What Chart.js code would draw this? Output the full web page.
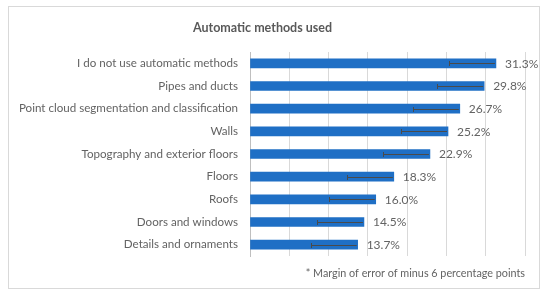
<!DOCTYPE html>
<html>
<head>
<meta charset="utf-8">
<script src="https://cdn.jsdelivr.net/npm/chart.js@4"></script>
<style>
  html, body { margin: 0; padding: 0; background: #fff; }
  #wrap { position: relative; width: 550px; height: 299px; }
  #frame { position: absolute; left: 8px; top: 6px; width: 532px; height: 283px; border: 1px solid #d9d9d9; box-sizing: border-box; pointer-events: none; }
</style>
</head>
<body>
<div id="wrap">
  <canvas id="chart" width="550" height="299"></canvas>
  <div id="frame"></div>
</div>
<script>
const categories = [
  'I do not use automatic methods',
  'Pipes and ducts',
  'Point cloud segmentation and classification',
  'Walls',
  'Topography and exterior floors',
  'Floors',
  'Roofs',
  'Doors and windows',
  'Details and ornaments'
]
const shares = [31.3, 29.8, 26.7, 25.2, 22.9, 18.3, 16.0, 14.5, 13.7]
const marginMinus = 6
const chartTitle = 'Automatic methods used'
const footnote = '* Margin of error of minus 6 percentage points'

const GREY_TEXT = '#636363'
const FONT = 'Lato, "Open Sans", sans-serif'

// error bars go left from the bar end by the margin
const errorBars = {
  id: 'errorBars',
  afterDatasetsDraw(chart) {
    const {ctx, scales: {x, y}} = chart
    ctx.save()
    ctx.strokeStyle = '#4a4a4a'
    ctx.lineWidth = 1
    shares.forEach((v, i) => {
      const yc = Math.round(y.getPixelForValue(i)) + 0.5
      const x1 = x.getPixelForValue(v) - 1
      const x0 = Math.round(x.getPixelForValue(v - marginMinus)) + 0.5
      ctx.beginPath()
      ctx.moveTo(x0, yc)
      ctx.lineTo(x1, yc)
      ctx.moveTo(x0, yc - 2.5)
      ctx.lineTo(x0, yc + 2.5)
      ctx.stroke()
    })
    ctx.restore()
  }
}

const valueLabels = {
  id: 'valueLabels',
  afterDatasetsDraw(chart) {
    const {ctx, scales: {x, y}} = chart
    ctx.save()
    ctx.fillStyle = GREY_TEXT
    ctx.font = '12px ' + FONT
    ctx.textAlign = 'left'
    ctx.textBaseline = 'middle'
    shares.forEach((v, i) => {
      ctx.fillText(v.toFixed(1) + '%', x.getPixelForValue(v) + 9, y.getPixelForValue(i) + 0.5)
    })
    ctx.restore()
  }
}

new Chart(document.getElementById('chart'), {
  type: 'bar',
  data: {
    labels: categories,
    datasets: [{
      data: shares,
      backgroundColor: '#1f6fc5',
      borderWidth: 0,
      barThickness: 9,
      categoryPercentage: 1
    }]
  },
  options: {
    indexAxis: 'y',
    responsive: false,
    animation: false,
    events: [],
    layout: { padding: { left: 0, right: 25, top: 0, bottom: 0 } },
    plugins: {
      legend: { display: false },
      tooltip: { enabled: false },
      title: {
        display: true,
        text: chartTitle,
        color: '#595959',
        font: { family: FONT, size: 12.5, weight: 'bold' },
        padding: { top: 20, bottom: 17 }
      },
      subtitle: {
        display: true,
        position: 'bottom',
        align: 'end',
        text: footnote,
        color: GREY_TEXT,
        font: { family: FONT, size: 10.8 },
        padding: { top: 11, bottom: 19 }
      }
    },
    scales: {
      x: {
        min: 0,
        max: 35,
        ticks: { display: false, stepSize: 5 },
        grid: { color: '#d9d9d9', drawTicks: false },
        border: { display: false }
      },
      y: {
        afterFit(scale) { scale.width = 250 },
        ticks: { color: GREY_TEXT, font: { family: FONT, size: 11.6 }, padding: 12 },
        grid: { display: false, drawTicks: false },
        border: { display: true, color: '#bfbfbf' }
      }
    }
  },
  plugins: [errorBars, valueLabels]
})
</script>
</body>
</html>
